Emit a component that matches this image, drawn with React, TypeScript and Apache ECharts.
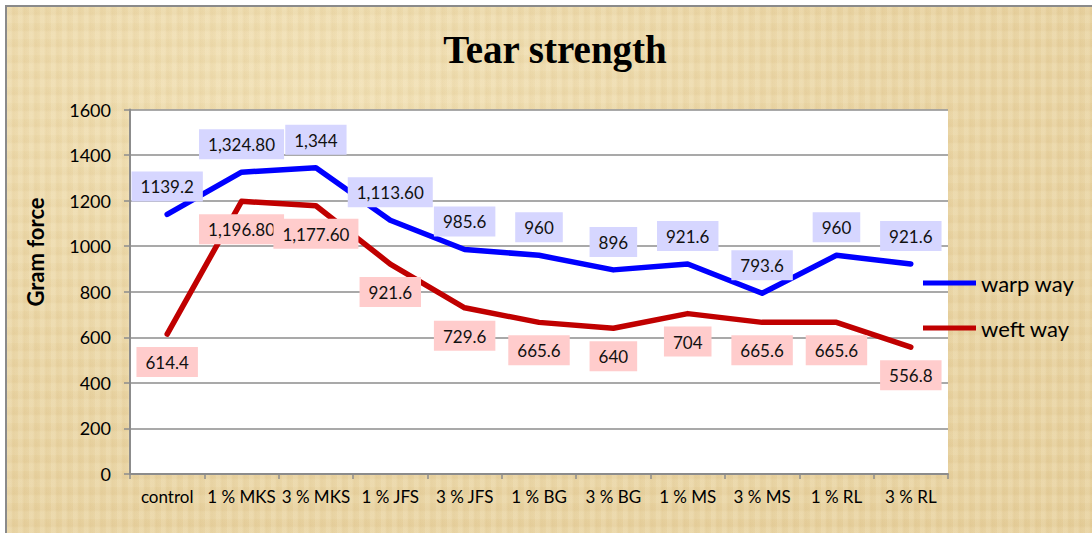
import React, { useEffect, useRef } from "react";
import * as echarts from "echarts";

const categories = ["control", "1 % MKS", "3 % MKS", "1 % JFS", "3 % JFS", "1 % BG", "3 % BG", "1 % MS", "3 % MS", "1 % RL", "3 % RL"];
const warpValues = [1139.2, 1324.8, 1344, 1113.6, 985.6, 960, 896, 921.6, 793.6, 960, 921.6];
const weftValues = [614.4, 1196.8, 1177.6, 921.6, 729.6, 665.6, 640, 704, 665.6, 665.6, 556.8];
const warpLabels = ["1139.2", "1,324.80", "1,344", "1,113.60", "985.6", "960", "896", "921.6", "793.6", "960", "921.6"];
const weftLabels = ["614.4", "1,196.80", "1,177.60", "921.6", "729.6", "665.6", "640", "704", "665.6", "665.6", "556.8"];
const yTicks = { min: 0, max: 1600, interval: 200 };

const FONT = "Lato, 'Liberation Sans', sans-serif";

export default function App() {
  const ref = useRef<HTMLDivElement>(null);
  useEffect(() => {
    if (!ref.current) return;
    const chart = echarts.init(ref.current, undefined, { renderer: "svg" });
    const labelCommon = {
      show: true,
      fontFamily: FONT,
      fontSize: 17,
      color: "#111",
      padding: [7, 9, 6, 9],
      distance: 13,
    };
    chart.setOption({
      animation: false,
      backgroundColor: "transparent",
      graphic: [
        {
          type: "text",
          x: 555,
          y: 49,
          style: {
            text: "Tear strength",
            fontFamily: "'Liberation Serif', 'Times New Roman', serif",
            fontWeight: "bold",
            fontSize: 39,
            fill: "#000",
            align: "center",
            verticalAlign: "middle",
          },
        },
        {
          type: "text",
          x: 35,
          y: 252,
          rotation: Math.PI / 2,
          style: {
            text: "Gram force",
            fontFamily: FONT,
            fontWeight: "bold",
            fontSize: 22,
            fill: "#000",
            align: "center",
            verticalAlign: "middle",
          },
        },
      ],
      grid: {
        left: 130,
        right: 144,
        top: 109.5,
        bottom: 59,
        show: true,
        backgroundColor: "#ffffff",
        borderWidth: 0,
      },
      legend: {
        orient: "vertical",
        left: 918,
        top: 267,
        icon: "rect",
        itemWidth: 53,
        itemHeight: 5,
        itemGap: 23,
        textStyle: { fontFamily: FONT, fontSize: 22, color: "#000" },
        data: [
          { name: "warp way", itemStyle: { color: "#0000ff" } },
          { name: "weft way", itemStyle: { color: "#c00000" } },
        ],
      },
      xAxis: {
        type: "category",
        data: categories,
        boundaryGap: true,
        axisLine: { show: true, lineStyle: { color: "#8c8c8c", width: 2 } },
        axisTick: { show: true, alignWithLabel: false, length: 5, lineStyle: { color: "#8c8c8c", width: 1.5 } },
        axisLabel: { interval: 0, fontFamily: FONT, fontSize: 17, color: "#000", margin: 14 },
        splitLine: { show: false },
      },
      yAxis: {
        type: "value",
        min: yTicks.min,
        max: yTicks.max,
        interval: yTicks.interval,
        axisLine: { show: true, lineStyle: { color: "#8c8c8c", width: 2 } },
        axisTick: { show: true, inside: false, length: 6, lineStyle: { color: "#8c8c8c", width: 1.5 } },
        axisLabel: { fontFamily: FONT, fontSize: 18, color: "#000", margin: 19, formatter: (v: number) => String(v) },
        splitLine: { show: true, lineStyle: { color: "#8c8c8c", width: 1.5 } },
      },
      series: [
        {
          name: "warp way",
          type: "line",
          data: warpValues,
          symbol: "circle",
          symbolSize: 0,
          showSymbol: true,
          lineStyle: { color: "#0000ff", width: 5.5, join: "round", cap: "round" },
          itemStyle: { color: "#0000ff" },
          label: {
            ...labelCommon,
            position: "top",
            backgroundColor: "#d6d6ff",
            formatter: (p: any) => warpLabels[p.dataIndex],
          },
          labelLayout: { hideOverlap: false },
          z: 3,
        },
        {
          name: "weft way",
          type: "line",
          data: weftValues,
          symbol: "circle",
          symbolSize: 0,
          showSymbol: true,
          lineStyle: { color: "#c00000", width: 5.5, join: "round", cap: "round" },
          itemStyle: { color: "#c00000" },
          label: {
            ...labelCommon,
            position: "bottom",
            backgroundColor: "#ffcccc",
            formatter: (p: any) => weftLabels[p.dataIndex],
          },
          labelLayout: { hideOverlap: false },
          z: 2,
        },
      ],
    });
    return () => chart.dispose();
  }, []);

  const texture =
    "repeating-linear-gradient(90deg, rgba(255,250,230,0.12) 0px, rgba(255,250,230,0.12) 4px, rgba(190,150,80,0.05) 6px, rgba(255,250,230,0) 11px), " +
    "repeating-linear-gradient(0deg, rgba(255,245,220,0.10) 0px, rgba(255,245,220,0.10) 7px, rgba(180,140,70,0.04) 9px, rgba(255,245,220,0) 16px), " +
    "radial-gradient(ellipse at 30% 20%, #f0dfb3 0%, #e9d4a3 50%, #e5ce9a 100%)";

  return (
    <div style={{ position: "fixed", left: 0, top: 0, width: 1092, height: 533, background: "#ffffff", overflow: "hidden" }}>
      <div
        style={{
          position: "absolute",
          left: 5,
          top: 5,
          width: 1087,
          height: 528,
          borderLeft: "2px solid #8a8a8a",
          borderTop: "2px solid #8a8a8a",
          background: texture,
        }}
      />
      <div ref={ref} style={{ position: "absolute", left: 0, top: 0, width: 1092, height: 533 }} />
    </div>
  );
}
